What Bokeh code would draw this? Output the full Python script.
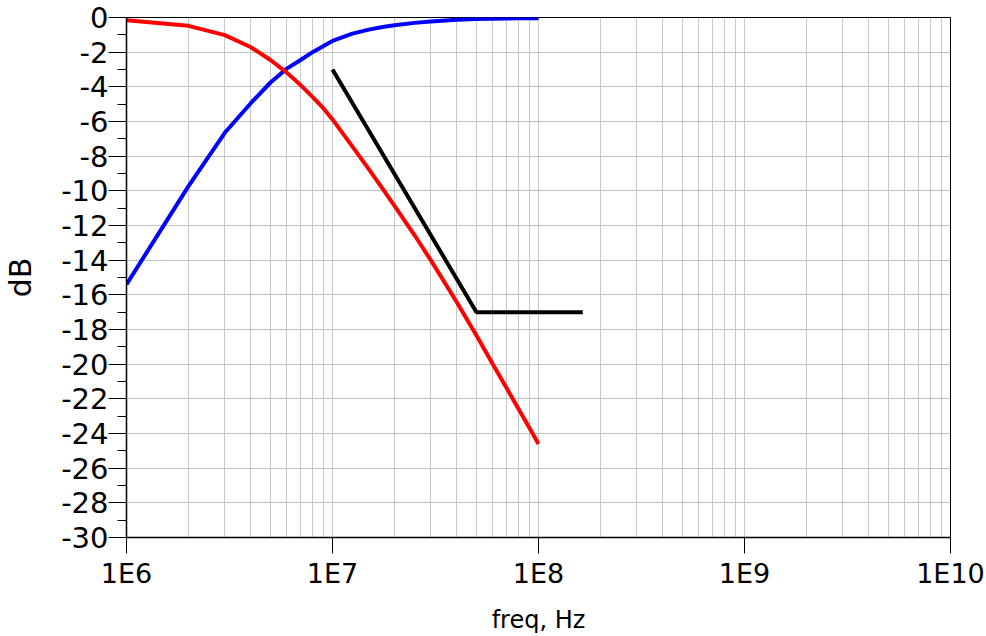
from bokeh.plotting import figure
from bokeh.models import FixedTicker, Range1d
from bokeh.embed import file_html
from bokeh.resources import INLINE

# ---- data ----
freq = [1e6, 2e6, 3e6, 4e6, 5e6, 6e6, 7e6, 8e6, 9e6,
        1e7, 1.25e7, 1.5e7, 1.75e7, 2e7, 2.5e7, 3e7, 4e7, 5e7, 6e7, 7e7, 8e7, 9e7, 1e8]
red_db = [-0.16, -0.48, -1.02, -1.70, -2.45, -3.18, -3.90, -4.58, -5.22,
          -5.88, -7.45, -8.75, -9.87, -10.87, -12.55, -14.00, -16.40, -18.35,
          -20.00, -21.38, -22.58, -23.64, -24.60]
blue_db = [-15.4, -9.73, -6.65, -4.96, -3.75, -2.95, -2.45, -2.0, -1.66,
           -1.35, -0.93, -0.70, -0.55, -0.45, -0.31, -0.23, -0.13, -0.09,
           -0.07, -0.06, -0.05, -0.05, -0.04]
mask_freq = [1e7, 5e7, 1.64e8]
mask_db = [-3.0, -17.0, -17.0]

x_ticks = [1e6, 1e7, 1e8, 1e9, 1e10]
x_tick_labels = ["1E6", "1E7", "1E8", "1E9", "1E10"]
x_minor = [m * d for d in [1e6, 1e7, 1e8, 1e9] for m in range(2, 10)]
y_ticks = list(range(-30, 1, 2))
y_tick_labels = [str(v) for v in y_ticks]
y_minor = list(range(-29, 0, 2))

FONT = "DejaVu Sans"

p = figure(width=986, height=636, x_axis_type="log",
           x_range=Range1d(1e6, 1e10), y_range=Range1d(-30, 0),
           output_backend="svg", toolbar_location=None,
           min_border_left=126, min_border_right=36,
           min_border_top=17, min_border_bottom=99)

p.background_fill_color = "white"
p.border_fill_color = "white"
p.outline_line_color = "black"
p.outline_line_width = 1

# grids
p.xaxis.ticker = FixedTicker(ticks=x_ticks, minor_ticks=x_minor)
p.yaxis.ticker = FixedTicker(ticks=y_ticks, minor_ticks=y_minor)
p.xgrid.grid_line_color = "#c8c8c8"
p.xgrid.minor_grid_line_color = "#c8c8c8"
p.xgrid.grid_line_width = 1
p.xgrid.minor_grid_line_width = 1
p.ygrid.grid_line_color = "#c0c0c0"
p.ygrid.grid_line_width = 1
p.ygrid.minor_grid_line_color = None

# x axis
xa = p.xaxis[0]
xa.major_label_overrides = {t: l for t, l in zip(x_ticks, x_tick_labels)}
xa.axis_line_color = "black"
xa.axis_line_width = 1.5
xa.major_tick_out = 16
xa.major_tick_in = 0
xa.minor_tick_out = 0
xa.minor_tick_in = 0
xa.major_tick_line_color = "black"
xa.major_label_text_font = FONT
xa.major_label_text_font_size = "27px"
xa.major_label_text_color = "black"
xa.major_label_standoff = 4
xa.axis_label = "freq, Hz"
xa.axis_label_text_font = FONT
xa.axis_label_text_font_size = "24px"
xa.axis_label_text_font_style = "normal"
xa.axis_label_text_color = "black"
xa.axis_label_standoff = 14

# y axis
ya = p.yaxis[0]
ya.major_label_overrides = {t: l for t, l in zip(y_ticks, y_tick_labels)}
ya.axis_line_color = "black"
ya.axis_line_width = 1.5
ya.major_tick_out = 18
ya.major_tick_in = 0
ya.minor_tick_out = 9
ya.minor_tick_in = 0
ya.major_tick_line_color = "black"
ya.minor_tick_line_color = "black"
ya.major_label_text_font = FONT
ya.major_label_text_font_size = "29px"
ya.major_label_text_color = "black"
ya.major_label_standoff = 0
ya.axis_label = "dB"
ya.axis_label_text_font = FONT
ya.axis_label_text_font_size = "30px"
ya.axis_label_text_font_style = "normal"
ya.axis_label_text_color = "black"
ya.axis_label_standoff = 20

# curves
p.line(freq, blue_db, line_color="#0000ff", line_width=4)
p.line(freq, red_db, line_color="#ff0000", line_width=4)
p.line(mask_freq, mask_db, line_color="black", line_width=4)

open("out.html", "w").write(file_html(p, INLINE))
